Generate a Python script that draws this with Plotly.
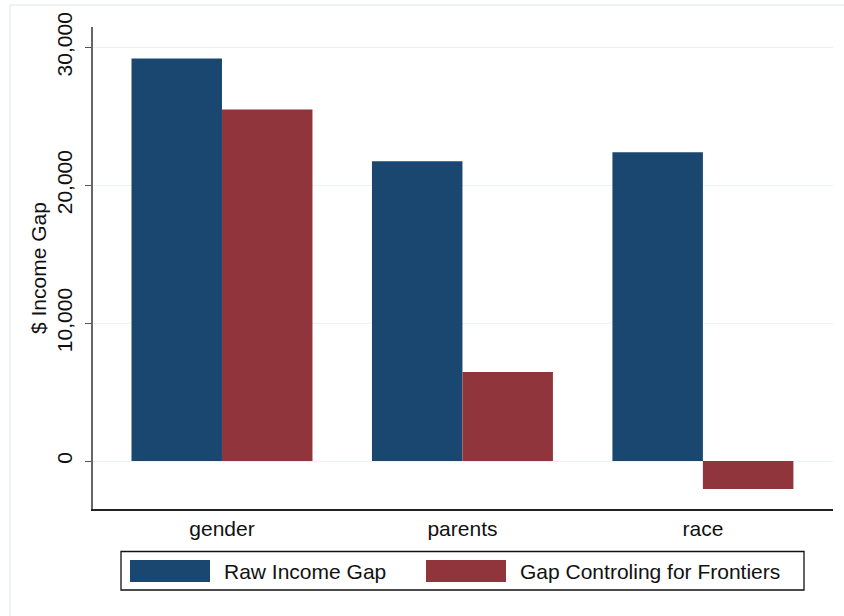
import plotly.graph_objects as go

# ---- data ----
categories = ["gender", "parents", "race"]
series_names = ["Raw Income Gap", "Gap Controling for Frontiers"]
raw_gap = [29200, 21740, 22390]
controlled_gap = [25500, 6450, -2030]
y_tick_values = [0, 10000, 20000, 30000]
y_tick_labels = ["0", "10,000", "20,000", "30,000"]
y_title = "$ Income Gap"

# ---- style ----
BLUE = "#1a476f"
RED = "#90353b"
FONT = "Liberation Sans, Arial, sans-serif"
FS = 21
W, H = 844, 616
L, R, T, B = 93, 11, 27, 107
PW, PH = W - L - R, H - T - B


def px_x(px):
    return (px - L) / PW


def px_y(py):
    return (H - B - py) / PH


fig = go.Figure()
fig.add_trace(go.Bar(x=categories, y=raw_gap, name=series_names[0],
                     marker=dict(color=BLUE, line=dict(width=0)), showlegend=False))
fig.add_trace(go.Bar(x=categories, y=controlled_gap, name=series_names[1],
                     marker=dict(color=RED, line=dict(width=0)), showlegend=False))

shapes = []
annotations = []
# outer faint frame
shapes.append(dict(type="rect", xref="paper", yref="paper",
                   x0=px_x(10), x1=px_x(852), y0=px_y(5), y1=px_y(624),
                   line=dict(color="#e8eef0", width=1.5), fillcolor="rgba(0,0,0,0)", layer="below"))
# legend box
shapes.append(dict(type="rect", xref="paper", yref="paper",
                   x0=px_x(121), x1=px_x(804), y0=px_y(551.5), y1=px_y(590),
                   line=dict(color="#111111", width=1.3), fillcolor="white"))
legend_items = [(series_names[0], BLUE, 130, 210, 222), (series_names[1], RED, 426, 506, 518)]
for name, col, sx0, sx1, tx in legend_items:
    shapes.append(dict(type="rect", xref="paper", yref="paper",
                       x0=px_x(sx0), x1=px_x(sx1), y0=px_y(560), y1=px_y(582),
                       line=dict(width=0), fillcolor=col))
    annotations.append(dict(xref="paper", yref="paper", x=px_x(tx), y=px_y(571),
                            xanchor="left", yanchor="middle", text=name, showarrow=False,
                            font=dict(family=FONT, size=FS, color="#111111")))
# y-axis title
annotations.append(dict(xref="paper", yref="paper", x=px_x(38), y=px_y(268),
                        xanchor="center", yanchor="middle", text=y_title, textangle=-90,
                        showarrow=False, font=dict(family=FONT, size=FS, color="#111111")))

fig.update_layout(
    width=W, height=H,
    margin=dict(l=L, r=R, t=T, b=B, autoexpand=False),
    paper_bgcolor="white", plot_bgcolor="white",
    barmode="group", bargap=0.2474, bargroupgap=0,
    font=dict(family=FONT, size=FS, color="#111111"),
    shapes=shapes, annotations=annotations,
    showlegend=False,
)
fig.update_xaxes(
    type="category", range=[-0.5364, 2.541],
    showline=True, linecolor="#222222", linewidth=1.5,
    ticks="", showgrid=False, ticklabelstandoff=0,
    tickfont=dict(family=FONT, size=FS, color="#111111"),
)
fig.update_yaxes(
    range=[-3480, 31480],
    tickvals=y_tick_values, ticktext=y_tick_labels, tickangle=-90,
    ticks="outside", ticklen=6, tickcolor="#555555", tickwidth=1.3,
    ticklabelstandoff=5,
    showline=True, linecolor="#666666", linewidth=1.5,
    showgrid=True, gridcolor="#eaf2f3", gridwidth=1.2, zeroline=False,
    tickfont=dict(family=FONT, size=FS, color="#111111"),
)

fig.write_html("out.html", config={"displayModeBar": False},
               post_script="document.body.style.margin='0';")
